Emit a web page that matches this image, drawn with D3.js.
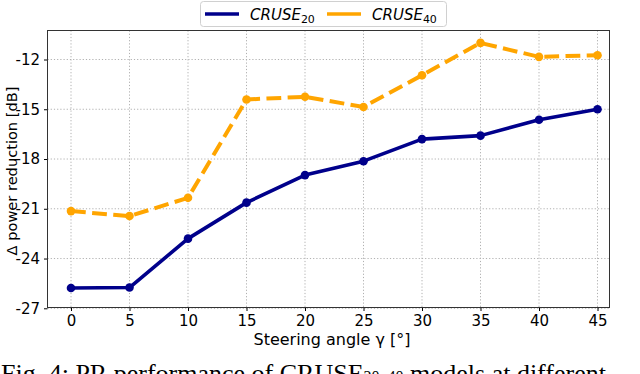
<!DOCTYPE html>
<html><head><meta charset="utf-8">
<script src="https://cdn.jsdelivr.net/npm/d3@7"></script>
<style>body{margin:0;background:#fff;} svg{display:block;}</style>
</head><body>
<svg id="c" width="640" height="374"></svg>
<script>
const angles = [0, 5, 10, 15, 20, 25, 30, 35, 40, 45];
const cruse20 = [-25.78, -25.75, -22.8, -20.63, -18.97, -18.13, -16.8, -16.59, -15.63, -15.0];
const cruse40 = [-21.14, -21.44, -20.34, -14.41, -14.25, -14.86, -12.95, -11.0, -11.84, -11.74];
const yTicks = [-27, -24, -21, -18, -15, -12];
const xTicks = [0, 5, 10, 15, 20, 25, 30, 35, 40, 45];
const seriesNames = ["20", "40"];

const svg = d3.select("#c");
const L = 47.5, R = 609.5, T = 30.5, B = 307.5;
const x = d3.scaleLinear().domain([0, 45]).range([71, 597.5]);
const y = d3.scaleLinear().domain([-27, -12]).range([308.3, 59.5]);
const font = "'DejaVu Sans', sans-serif";

// grid
const g = svg.append("g");
g.selectAll("line.vx").data(xTicks).enter().append("line")
  .attr("x1", d => x(d)).attr("x2", d => x(d)).attr("y1", T).attr("y2", B)
  .attr("stroke", "#b0b0b0").attr("stroke-width", 1).attr("stroke-dasharray", "1.2,2");
g.selectAll("line.hy").data(yTicks).enter().append("line")
  .attr("y1", d => y(d)).attr("y2", d => y(d)).attr("x1", L).attr("x2", R)
  .attr("stroke", "#b0b0b0").attr("stroke-width", 1).attr("stroke-dasharray", "1.2,2");

// axes
const xAxis = d3.axisBottom(x).tickValues(xTicks).tickSize(3.5).tickPadding(4);
const ax = svg.append("g").attr("transform", `translate(0,${B})`).call(xAxis);
ax.select(".domain").remove();
ax.selectAll("text").attr("font-family", font).attr("font-size", 15).attr("fill", "#000");
ax.selectAll("line").attr("stroke", "#000");
const yAxis = d3.axisLeft(y).tickValues(yTicks).tickSize(3.5).tickPadding(4).tickFormat(d3.format("d"));
const ay = svg.append("g").attr("transform", `translate(${L},0)`).call(yAxis);
ay.select(".domain").remove();
ay.selectAll("text").attr("font-family", font).attr("font-size", 15).attr("fill", "#000")
  .text(d => String(d));
ay.selectAll("line").attr("stroke", "#000");

// frame
svg.append("rect").attr("x", L).attr("y", T).attr("width", R - L).attr("height", B - T)
  .attr("fill", "none").attr("stroke", "#333").attr("stroke-width", 1);

// lines
const line = d3.line().x((d, i) => x(angles[i])).y(d => y(d));
svg.append("path").datum(cruse20).attr("d", line).attr("fill", "none")
  .attr("stroke", "#00008b").attr("stroke-width", 3.6).attr("stroke-linejoin", "round");
svg.selectAll("circle.b").data(cruse20).enter().append("circle")
  .attr("cx", (d, i) => x(angles[i])).attr("cy", d => y(d)).attr("r", 4.3).attr("fill", "#00008b");
svg.append("path").datum(cruse40).attr("d", line).attr("fill", "none")
  .attr("stroke", "#ffa500").attr("stroke-width", 4).attr("stroke-dasharray", "14.8,6.4");
svg.selectAll("circle.o").data(cruse40).enter().append("circle")
  .attr("cx", (d, i) => x(angles[i])).attr("cy", d => y(d)).attr("r", 4.3).attr("fill", "#ffa500");

// axis labels
svg.append("text").attr("x", 332).attr("y", 345).attr("text-anchor", "middle")
  .attr("font-family", font).attr("font-size", 16).text("Steering angle γ [°]");
svg.append("text").attr("transform", "translate(16.5,171) rotate(-90)").attr("text-anchor", "middle")
  .attr("font-family", font).attr("font-size", 14.6).text("Δ power reduction [dB]");

// legend
svg.append("rect").attr("x", 200.5).attr("y", 1.5).attr("width", 246).attr("height", 25)
  .attr("rx", 3).attr("fill", "#fff").attr("stroke", "#d0d0d0");
const leg = [{c: "#00008b", x: 205}, {c: "#ffa500", x: 327}];
leg.forEach((l, i) => {
  svg.append("line").attr("x1", l.x).attr("x2", l.x + 34).attr("y1", 14).attr("y2", 14)
    .attr("stroke", l.c).attr("stroke-width", 3.6);
  const t = svg.append("text").attr("x", l.x + 45).attr("y", 19.5)
    .attr("font-family", font).attr("font-size", 15).attr("font-style", "italic");
  t.append("tspan").text("CRUSE");
  t.append("tspan").attr("font-size", 11).attr("dy", 3).attr("font-style", "normal").text(seriesNames[i]);
});

// caption (cut off at the bottom edge, as in the reference)
const cap = svg.append("text").attr("x", 1).attr("y", 382)
  .attr("font-family", "'Liberation Serif', 'Times New Roman', serif").attr("font-size", 26);
cap.append("tspan").text("Fig. 4: PR performance of CRUSE");
cap.append("tspan").attr("font-size", 16).attr("dy", 0).text("20, 40");
cap.append("tspan").attr("dy", 0).text(" models at different");
</script>
</body></html>
